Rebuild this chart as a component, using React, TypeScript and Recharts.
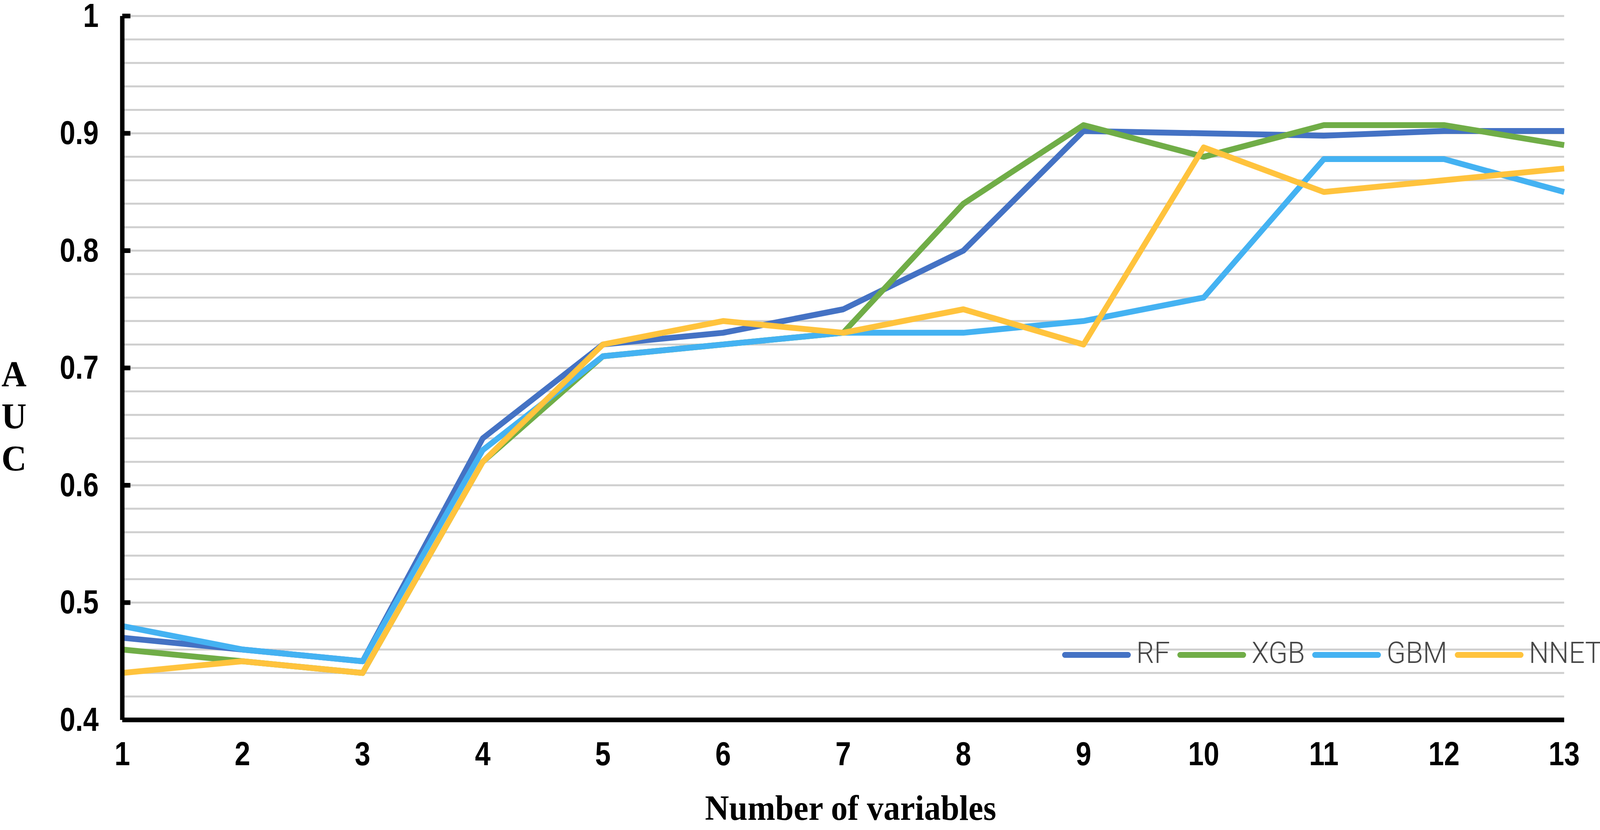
import React from "react";
import {
  LineChart,
  Line,
  XAxis,
  YAxis,
  CartesianGrid,
  Legend,
  Label,
} from "recharts";

const variables = [1, 2, 3, 4, 5, 6, 7, 8, 9, 10, 11, 12, 13];
const rf = [0.47, 0.46, 0.45, 0.64, 0.72, 0.73, 0.75, 0.8, 0.902, 0.9, 0.898, 0.902, 0.902];
const xgb = [0.46, 0.45, 0.44, 0.62, 0.71, 0.72, 0.73, 0.84, 0.907, 0.88, 0.907, 0.907, 0.89];
const gbm = [0.48, 0.46, 0.45, 0.63, 0.71, 0.72, 0.73, 0.73, 0.74, 0.76, 0.878, 0.878, 0.85];
const nnet = [0.44, 0.45, 0.44, 0.62, 0.72, 0.74, 0.73, 0.75, 0.72, 0.888, 0.85, 0.86, 0.87];

const yTicks = [0.4, 0.5, 0.6, 0.7, 0.8, 0.9, 1];
const yTickLabels = ["0.4", "0.5", "0.6", "0.7", "0.8", "0.9", "1"];
const gridValues = [
  0.42, 0.44, 0.46, 0.48, 0.5, 0.52, 0.54, 0.56, 0.58, 0.6, 0.62, 0.64, 0.66, 0.68, 0.7,
  0.72, 0.74, 0.76, 0.78, 0.8, 0.82, 0.84, 0.86, 0.88, 0.9, 0.92, 0.94, 0.96, 0.98, 1,
];

const series = [
  { key: "RF", name: "RF", color: "#4472C4" },
  { key: "XGB", name: "XGB", color: "#70AD47" },
  { key: "GBM", name: "GBM", color: "#44B2F2" },
  { key: "NNET", name: "NNET", color: "#FFC33D" },
];

const data = variables.map((n, i) => ({
  n,
  RF: rf[i],
  XGB: xgb[i],
  GBM: gbm[i],
  NNET: nnet[i],
}));

// design size; the whole chart is scaled to the real viewport
const W = 4331;
const H = 2126;
const tickFont = "'Liberation Sans', Arial, sans-serif";
const serifFont = "'Liberation Serif', 'Times New Roman', serif";

// the reference digits are narrower than Arial
const squeeze = 0.88;

const YTick = (props: any) => {
  const { x, y, payload } = props;
  const idx = yTicks.indexOf(payload.value);
  const label = idx >= 0 ? yTickLabels[idx] : String(payload.value);
  return (
    <g>
      <line x1={x} x2={x + 22} y1={y} y2={y} stroke="#000" strokeWidth={12} />
      <text
        transform={`translate(${x - 64},${y}) scale(${squeeze},1)`}
        dy="0.32em"
        textAnchor="end"
        fontFamily={tickFont}
        fontWeight="bold"
        fontSize={86}
        fill="#000"
      >
        {label}
      </text>
    </g>
  );
};

const XTick = (props: any) => {
  const { x, y, payload } = props;
  return (
    <text
      transform={`translate(${x},${y}) scale(${squeeze},1)`}
      dy="0.71em"
      textAnchor="middle"
      fontFamily={tickFont}
      fontWeight="bold"
      fontSize={86}
      fill="#000"
    >
      {payload.value}
    </text>
  );
};

const AucLabel = (props: any) => {
  const { viewBox } = props;
  const cy = viewBox.y + viewBox.height / 2;
  const letters = ["A", "U", "C"];
  return (
    <g>
      {letters.map((l, i) => (
        <text
          key={l}
          x={38}
          y={cy + 47 + i * 108}
          textAnchor="middle"
          fontFamily={serifFont}
          fontWeight="bold"
          fontSize={94}
          fill="#000"
        >
          {l}
        </text>
      ))}
    </g>
  );
};

const LegendContent = () => (
  <div style={{ display: "flex", alignItems: "center", height: 104 }}>
    {series.map((s) => (
      <div key={s.key} style={{ display: "flex", alignItems: "center", marginRight: 20 }}>
        <div
          style={{
            width: 186,
            height: 15,
            borderRadius: 8,
            backgroundColor: s.color,
            marginRight: 15,
            marginTop: 10,
          }}
        />
        <span
          style={{
            fontFamily: "Roboto, sans-serif",
            fontWeight: 300,
            fontSize: 76,
            color: "#474747",
            lineHeight: "104px",
          }}
        >
          {s.name}
        </span>
      </div>
    ))}
  </div>
);

export default function App() {
  const iw = typeof window !== "undefined" ? window.innerWidth : W;
  const ih = typeof window !== "undefined" ? window.innerHeight : H;
  const sx = iw / W;
  const sy = ih / H;

  return (
    <div
      style={{
        position: "fixed",
        left: 0,
        top: 0,
        width: W,
        height: H,
        background: "#fff",
        transform: `scale(${sx}, ${sy})`,
        transformOrigin: "0 0",
      }}
    >
      <LineChart
        width={W}
        height={H}
        data={data}
        margin={{ top: 41, right: 97, bottom: 0, left: 0 }}
      >
        <CartesianGrid
          horizontal
          vertical={false}
          horizontalValues={gridValues}
          stroke="#CFCFCF"
          strokeWidth={5}
        />
        <XAxis
          dataKey="n"
          type="number"
          domain={[1, 13]}
          ticks={variables}
          height={282}
          tickLine={false}
          tickSize={0}
          tickMargin={55}
          axisLine={{ stroke: "#000", strokeWidth: 12 }}
          tick={<XTick />}
          interval={0}
        >
          <Label
            value="Number of variables"
            position="insideBottom"
            offset={26}
            dx={20}
            fontFamily={serifFont}
            fontWeight="bold"
            fontSize={90}
            fill="#000"
          />
        </XAxis>
        <YAxis
          type="number"
          domain={[0.4, 1]}
          ticks={yTicks}
          width={331}
          tickLine={false}
          tickSize={0}
          tickMargin={0}
          axisLine={{ stroke: "#000", strokeWidth: 12 }}
          tick={<YTick />}
          interval={0}
        >
          <Label content={<AucLabel />} />
        </YAxis>
        <Legend
          layout="horizontal"
          verticalAlign="middle"
          align="center"
          content={<LegendContent />}
          wrapperStyle={{ position: "absolute", left: 2875, top: 1620, width: "auto" }}
        />
        {series.map((s) => (
          <Line
            key={s.key}
            type="linear"
            dataKey={s.key}
            name={s.name}
            stroke={s.color}
            strokeWidth={15}
            strokeLinejoin="round"
            dot={false}
            activeDot={false}
            isAnimationActive={false}
          />
        ))}
      </LineChart>
    </div>
  );
}
